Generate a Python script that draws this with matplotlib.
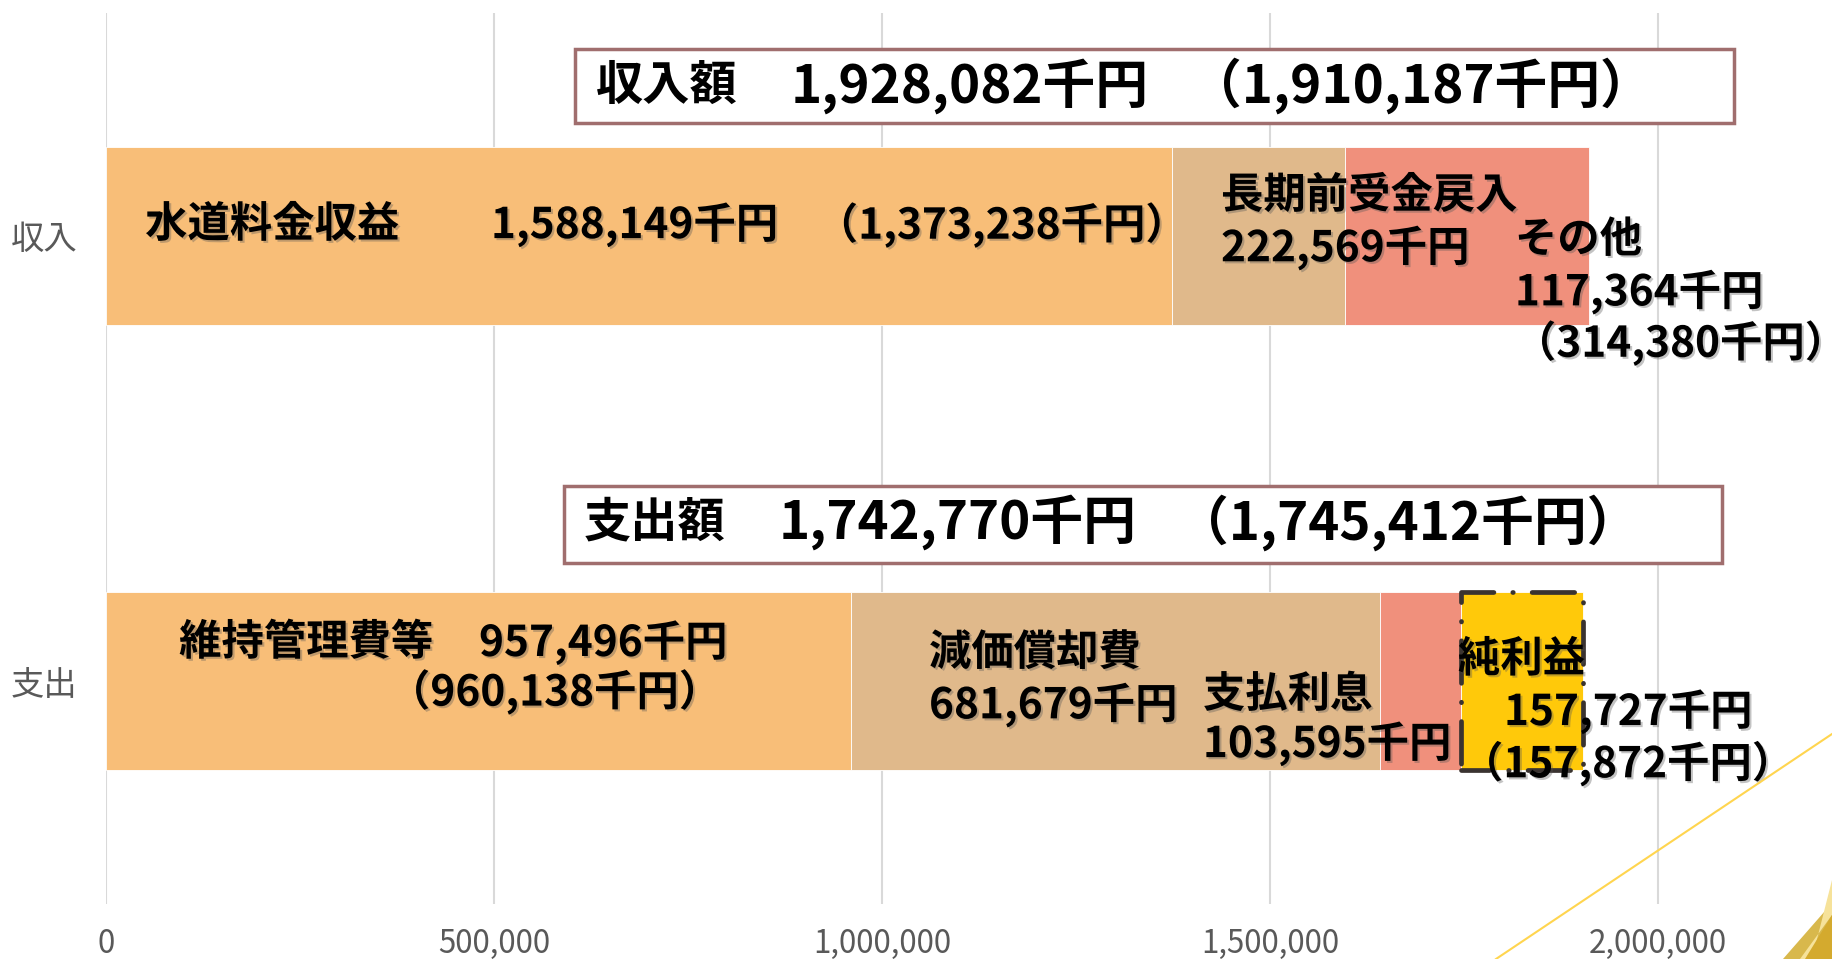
import numpy as np
import matplotlib.pyplot as plt
import matplotlib.patheffects as pe
from matplotlib.patches import Rectangle, Polygon

plt.rcParams['font.family'] = ['Noto Sans CJK JP', 'DejaVu Sans']

# data (bars are drawn with the previous-year values in parentheses)
categories = ['支出', '収入']
income_items = ['水道料金収益', '長期前受金戻入', 'その他']
income_values = [1373238, 222569, 314380]
expense_items = ['維持管理費等', '減価償却費', '支払利息', '純利益']
expense_values = [960138, 681679, 103595, 157872]
x_ticks = [0, 500000, 1000000, 1500000, 2000000]

income_colors = ['#F8BE78', '#E0B98B', '#F0907C']
expense_colors = ['#F8BE78', '#E0B98B', '#F0907C', '#FFC90A']

fig = plt.figure(figsize=(18.32, 9.59), dpi=100)
ax = fig.add_axes([106.3 / 1832, 55 / 959, 1 - 106.3 / 1832, 891 / 959])

# stacked bars
left = 0
for v, c in zip(income_values, income_colors):
    ax.barh(1, v, left=left, height=0.4, color=c, edgecolor='white', linewidth=0.6, zorder=2)
    left += v
left = 0
for v, c in zip(expense_values, expense_colors):
    ax.barh(0, v, left=left, height=0.4, color=c, edgecolor='white', linewidth=0.6, zorder=2)
    left += v

# dashed frame around 純利益
x0 = sum(expense_values[:3])
ax.add_patch(Rectangle((x0, -0.2), expense_values[3], 0.4, fill=False, edgecolor='#3A3330',
                       linewidth=3.4, linestyle=(3, (9, 4, 0.1, 4)), capstyle='round',
                       joinstyle='round', zorder=4))

ax.set_xlim(0, 2223900)
ax.set_ylim(-0.5, 1.5)
ax.set_xticks(x_ticks)
ax.set_xticklabels([f'{t:,}' for t in x_ticks], color='#595959', fontsize=22.5)
ax.set_yticks([0, 1])
ax.set_yticklabels(categories, color='#595959', fontsize=24)
ax.tick_params(axis='x', length=0, pad=17)
ax.tick_params(axis='y', length=0, pad=21)
ax.grid(axis='x', color='#D9D9D9', linewidth=1.5, zorder=0)
ax.set_axisbelow(True)
for s in ax.spines.values():
    s.set_visible(False)

shadow = [pe.withSimplePatchShadow(offset=(1.5, -1.5), shadow_rgbFace='#555555', alpha=0.35)]
dy = -0.007


def label(x, y, s, size=30.5, ha='left'):
    ax.text(x, y + dy, s, fontsize=size, fontweight='bold', ha=ha, va='center',
            color='black', path_effects=shadow, zorder=5)


# income labels
label(50000, 1.031, income_items[0])
label(495700, 1.031, '1,588,149千円')
label(914300, 1.031, '（1,373,238千円）')
label(1436500, 1.096, income_items[1])
label(1436500, 0.979, '222,569千円')
label(1815300, 0.997, income_items[2])
label(1815300, 0.880, '117,364千円')
label(1814000, 0.766, '（314,380千円）')

# expense labels
label(93800, 0.093, expense_items[0])
label(480300, 0.093, '957,496千円')
label(363000, -0.017, '（960,138千円）')
label(1060200, 0.070, expense_items[1])
label(1060200, -0.047, '681,679千円')
label(1413200, -0.024, expense_items[2])
label(1413200, -0.134, '103,595千円')
label(1741900, 0.055, expense_items[3])
label(1801200, -0.062, '157,727千円')
label(1745800, -0.178, '（157,872千円）')

# total boxes
for (bx0, bx1, by0, by1) in [(603900, 2097300, 1.253, 1.419), (589800, 2082000, 0.265, 0.438)]:
    ax.add_patch(Rectangle((bx0, by0), bx1 - bx0, by1 - by0, facecolor='white',
                           edgecolor='#A06E6E', linewidth=2.5, zorder=3))


def box_text(x, y, s, size):
    ax.text(x, y, s, fontsize=size, fontweight='bold', va='center', zorder=5)


box_text(631000, 1.336, '収入額', 34)
box_text(882300, 1.336, '1,928,082千円', 38)
box_text(1395000, 1.336, '（1,910,187千円）', 38)
box_text(615600, 0.357, '支出額', 34)
box_text(866800, 0.357, '1,742,770千円', 38)
box_text(1379000, 0.357, '（1,745,412千円）', 38)

# slide decoration in the lower right corner
W, H = 1832, 959
fig.add_artist(plt.Line2D([1496 / W, 1], [0, (H - 734) / H], color='#FFD54F', linewidth=1.5,
                          transform=fig.transFigure))
fig.add_artist(Polygon([[1783 / W, 0], [1, (H - 903) / H], [1, 0]], closed=True,
                       facecolor='#D8B84C', edgecolor='none', transform=fig.transFigure))
fig.add_artist(Polygon([[1812 / W, 0], [1, (H - 880) / H], [1, (H - 915) / H], [1800 / W, 0]],
                       closed=True, facecolor='#F6E29A', edgecolor='none', transform=fig.transFigure))
fig.add_artist(Polygon([[1805 / W, 0], [1, (H - 915) / H], [1, 0]], closed=True,
                       facecolor='#D4AA2E', edgecolor='none', transform=fig.transFigure))

fig.savefig('out.png', dpi=100)
